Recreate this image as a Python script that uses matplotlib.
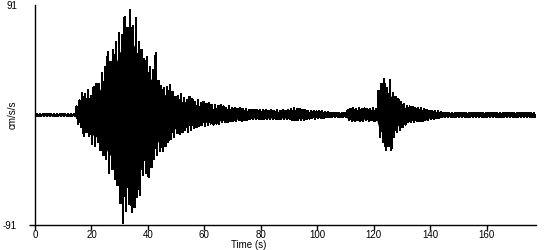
import matplotlib
matplotlib.use("Agg")
import matplotlib.pyplot as plt
import numpy as np

# Time in seconds (1-s bins)
time_s = list(range(0, 178))

# Tip of the tallest swing in each second (cm/s/s)
peak_max = [
    0.6, 0.6, 0.6, 0.6, 0.6, 0.6, 0.6, 0.6, 0.6, 0.6,
    0.6, 0.6, 0.6, 0.6, 0.6, 7, 12, 18, 17, 21,
    16, 23, 26, 26, 35, 40, 52, 44, 54, 60,
    68, 66, 81, 72, 87, 74, 80, 60, 54, 46,
    48, 40, 37, 51, 28, 24, 22, 23, 25, 19,
    15, 16, 17, 14, 12, 15, 13, 11, 12, 10,
    11, 9, 10, 8, 8, 7, 8, 7, 6, 7,
    5.5, 6, 5, 5.5, 5, 5, 4, 4.5, 4, 4,
    4.5, 4, 4, 3.5, 4, 3.5, 4, 3.5, 4, 3.5,
    4, 5, 5.5, 5, 5, 4.5, 4, 3.5, 3, 3.5,
    3, 3, 3, 2.5, 2.5, 2, 2, 2, 2, 2,
    2, 4, 5, 5.5, 5, 5.5, 5, 5.5, 5, 5,
    5.5, 5, 20, 26, 30, 22, 29, 18, 15, 13,
    11, 9, 7, 7, 6.5, 6, 6, 5.5, 5, 4.5,
    3.5, 3.5, 3, 3, 2.5, 2, 2, 2, 2, 2,
    2, 2, 2, 2, 2, 2, 2, 2, 2, 2,
    2, 2, 2, 2, 2, 2, 2, 2, 2, 2,
    2, 2, 2, 2, 2, 2, 2, 2,
]

peak_min = [
    -0.6, -0.6, -0.6, -0.6, -0.6, -0.6, -0.6, -0.6, -0.6, -0.6,
    -0.6, -0.6, -0.6, -0.6, -0.6, -7, -10, -17, -14, -17,
    -24, -26, -22, -29, -33, -36, -48, -45, -53, -58,
    -73, -89, -79, -74, -80, -76, -68, -66, -50, -48,
    -51, -43, -36, -33, -30, -30, -26, -22, -20, -18,
    -15, -16, -14, -12, -14, -12, -11, -10, -9, -8,
    -9, -8, -7, -8, -7, -7, -6, -6, -6, -5,
    -5, -5, -4.5, -5, -4.5, -4, -3.5, -3.5, -3.5, -3,
    -3.5, -3.5, -3, -3.5, -3, -3, -3.5, -3, -3, -3,
    -3.5, -4, -4.5, -4.5, -4, -4, -3.5, -3, -2.5, -3,
    -2.5, -2.5, -2.5, -2, -2, -1.5, -1.5, -1.5, -1.5, -1.5,
    -1.5, -4, -5, -5, -4.5, -5, -5, -4.5, -5, -4.5,
    -5, -4.5, -18, -22, -29, -26, -29, -18, -14, -12,
    -10, -8, -6, -6, -6, -5, -5, -5, -4.5, -4,
    -3, -3, -2.5, -2.5, -2, -1.5, -1.5, -1.5, -1.5, -1.5,
    -1.5, -1.5, -1.5, -1.5, -1.5, -1.5, -1.5, -1.5, -1.5, -1.5,
    -1.5, -1.5, -1.5, -1.5, -1.5, -1.5, -1.5, -1.5, -1.5, -1.5,
    -1.5, -1.5, -1.5, -1.5, -1.5, -1.5, -1.5, -1.5,
]

# Extent of the dense (solid black) band in each second (cm/s/s)
core_max = [
    0.6, 0.6, 0.6, 0.6, 0.6, 0.6, 0.6, 0.6, 0.6, 0.6,
    0.6, 0.6, 0.6, 0.6, 0.6, 4, 8, 12, 13, 14,
    14, 17, 19, 21, 25, 29, 33, 35, 40, 45,
    52, 55, 60, 60, 62, 58, 52, 45, 40, 35,
    33, 30, 27, 24, 21, 18, 17, 15, 14, 13,
    11, 11, 10, 9, 9, 9, 8, 8, 7, 7,
    6, 6, 6, 5, 5, 5, 5, 4.5, 4.5, 4,
    4, 4, 4, 4, 4, 4, 3, 3, 3, 3,
    3, 3, 3, 3, 3, 3, 3, 3, 3, 3,
    3, 3.5, 3.5, 3.5, 3.5, 3.5, 3.5, 2.5, 2.5, 2.5,
    2.5, 2.5, 2.5, 2.5, 2.5, 1.5, 1.5, 1.5, 1.5, 1.5,
    1.5, 4, 4, 4, 4, 4, 4, 4, 4, 4,
    4, 4, 12, 16, 18, 17, 16, 13, 10, 9,
    8, 6.5, 5, 5, 5, 4.5, 4.5, 4.5, 4.5, 4.5,
    2.5, 2.5, 2.5, 2.5, 2.5, 1.5, 1.5, 1.5, 1.5, 1.5,
    1.5, 1.5, 1.5, 1.5, 1.5, 1.5, 1.5, 1.5, 1.5, 1.5,
    1.5, 1.5, 1.5, 1.5, 1.5, 1.5, 1.5, 1.5, 1.5, 1.5,
    1.5, 1.5, 1.5, 1.5, 1.5, 1.5, 1.5, 1.5,
]

core_min = [
    -0.6, -0.6, -0.6, -0.6, -0.6, -0.6, -0.6, -0.6, -0.6, -0.6,
    -0.6, -0.6, -0.6, -0.6, -0.6, -4, -7, -11, -11, -12,
    -15, -18, -18, -21, -24, -27, -32, -34, -40, -45,
    -52, -58, -60, -60, -60, -57, -52, -45, -38, -35,
    -34, -30, -27, -24, -21, -19, -17, -15, -14, -12,
    -11, -10, -10, -9, -9, -8, -8, -7, -7, -6,
    -6, -6, -5, -5, -5, -5, -4.5, -4.5, -4, -4,
    -3.5, -3.5, -3.5, -3.5, -3.5, -3.5, -2.5, -2.5, -2.5, -2.5,
    -2.5, -2.5, -2.5, -2.5, -2.5, -2.5, -2.5, -2.5, -2.5, -2.5,
    -2.5, -3, -3, -3, -3, -3, -3, -2, -2, -2,
    -2, -2, -2, -2, -2, -1.2, -1.2, -1.2, -1.2, -1.2,
    -1.2, -3.5, -3.5, -3.5, -3.5, -3.5, -3.5, -3.5, -3.5, -3.5,
    -3.5, -3.5, -12, -15, -18, -17, -16, -12, -10, -8,
    -7, -6, -4.5, -4.5, -4.5, -4, -4, -4, -4, -4,
    -2, -2, -2, -2, -2, -1.2, -1.2, -1.2, -1.2, -1.2,
    -1.2, -1.2, -1.2, -1.2, -1.2, -1.2, -1.2, -1.2, -1.2, -1.2,
    -1.2, -1.2, -1.2, -1.2, -1.2, -1.2, -1.2, -1.2, -1.2, -1.2,
    -1.2, -1.2, -1.2, -1.2, -1.2, -1.2, -1.2, -1.2,
]

x_ticks = [0, 20, 40, 60, 80, 100, 120, 140, 160]
y_ticks = [-91, 91]
x_label = "Time (s)"
y_label = "cm/s/s"

plt.rcParams['font.family'] = ['Liberation Sans', 'DejaVu Sans']

fig = plt.figure(figsize=(5.5, 2.5), dpi=100)
ax = fig.add_axes([35 / 550, 25 / 250, 500.7 / 550, 220 / 250])

t = np.asarray(time_s, dtype=float)
hi = np.asarray(peak_max, dtype=float)
lo = np.asarray(peak_min, dtype=float)

# dense band
ax.fill_between(t, core_min, core_max, color='black', linewidth=0,
                antialiased=False)
# oscillating trace: each second swings up to its peak, then down to its trough
zz_t = np.column_stack([t - 0.25, t + 0.25]).ravel()
zz_v = np.column_stack([hi, lo]).ravel()
ax.plot(zz_t, zz_v, color='black', linewidth=0.9, antialiased=False)

ax.set_xlim(0, 177.4)
ax.set_ylim(-91, 91)
ax.set_xticks(x_ticks)
ax.set_xticklabels([str(v) for v in x_ticks])
ax.set_yticks(y_ticks)
ax.set_yticklabels([str(v) for v in y_ticks])

for s in ['top', 'right']:
    ax.spines[s].set_visible(False)
for s in ['left', 'bottom']:
    ax.spines[s].set_linewidth(1.0)
    ax.spines[s].set_color('black')

ax.tick_params(axis='x', direction='out', length=3.5, width=1, pad=0.3,
               labelsize=7, colors='black')
ax.tick_params(axis='y', direction='out', length=4, width=1, pad=9,
               labelsize=7, colors='black')
ax.yaxis.get_major_ticks()[1].tick1line.set_visible(False)

fig.text(13 / 550, 135 / 250, y_label, rotation=90, ha='center', va='center',
         fontsize=7)
fig.text(249 / 550, 0, x_label, ha='center', va='bottom', fontsize=7)

fig.savefig("out.png", dpi=100, facecolor='white')
